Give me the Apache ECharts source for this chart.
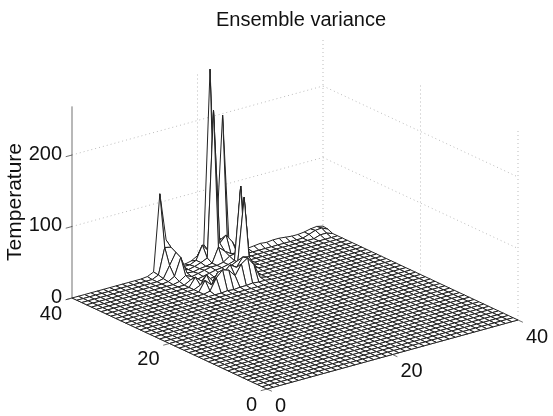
<!DOCTYPE html>
<html>
<head>
<meta charset="utf-8">
<title>Ensemble variance</title>
<script src="https://cdn.jsdelivr.net/npm/echarts@6/dist/echarts.min.js"></script>
<style>
    html, body { margin: 0; padding: 0; background: #fff; }
    #main { width: 553px; height: 416px; }
</style>
</head>
<body>
<div id="main"></div>
<script>
const xTicks = [0, 20, 40];
const yTicks = [0, 20, 40];
const zTicks = [0, 100, 200];
const zTop = 268;
const gridCells = 40;

// 扰动区域 x=12..25，第一行 y=40，最后一行 y=30
const patchX0 = 12;
const patchY0 = 40;
const patchRows = [
    [1, 5, 112, 45, 11, 6, 4, 6, 11, 24, 267, 30, 198, 20],
    [0, 4, 40, 38, 12, 6, 6, 10, 29, 18, 25, 30, 20, 12],
    [0, 2, 18, 34, 8, 5, 7, 10, 14, 218, 30, 39, 27, 10],
    [0, 1, 6, 30, 6, 5, 7, 8, 10, 30, 22, 16, 14, 6],
    [0, 0, 2, 8, 4, 6, 8, 10, 10, 12, 18, 20, 14, 4],
    [0, 0, 0, 5, 3, 5, 7, 9, 10, 12, 15, 117, 14, 3],
    [0, 0, 0, 12, 4, 4, 5, 6, 8, 10, 16, 12, 6, 1],
    [0, 0, 0, 4, 16, 5, 8, 14, 20, 24, 110, 3, 1, 0],
    [0, 0, 0, 14, 5, 20, 18, 26, 20, 32, 30, 2, 0, 0],
    [0, 0, 0, 2, 18, 27, 24, 14, 28, 34, 22, 2, 0, 0],
    [0, 0, 0, 0, 0, 1, 0, 1, 1, 2, 1, 1, 0, 0]
];
// 右后方的小起伏 [x, y, z]
const ridgeCells = [
    [26, 40, 3], [27, 40, 3], [28, 40, 2], [29, 40, 3], [30, 40, 4], [31, 40, 3], [32, 40, 4],
    [33, 40, 4], [34, 40, 3], [35, 40, 2], [36, 40, 2], [37, 40, 3], [38, 40, 5], [39, 40, 6], [40, 40, 4],
    [38, 39, 6], [39, 39, 7], [40, 39, 3], [37, 39, 3], [38, 38, 3], [39, 38, 3]
];

// 投影：数据坐标 -> 图上坐标（轴范围即画布尺寸）
const origin = [267, 389];
const xStep = [6.275, -1.725];
const yStep = [-4.875, -2.275];
const zStep = -0.715;

function project(x, y, z) {
    return [
        origin[0] + xStep[0] * x + yStep[0] * y,
        origin[1] + xStep[1] * x + yStep[1] * y + zStep * z
    ];
}

let heights = [];
for (let x = 0; x <= gridCells; x++) {
    heights.push(new Array(gridCells + 1).fill(0));
}
patchRows.forEach(function (row, r) {
    row.forEach(function (z, c) {
        heights[patchX0 + c][patchY0 - r] = z;
    });
});
ridgeCells.forEach(function (p) {
    heights[p[0]][p[1]] = p[2];
});

// 画家算法：从后往前画
let meshData = [];
for (let sum = 2 * gridCells - 2; sum >= 0; sum--) {
    for (let x = 0; x < gridCells; x++) {
        let y = sum - x;
        if (y >= 0 && y < gridCells) {
            meshData.push([x, y]);
        }
    }
}

let wallData = [];
zTicks.forEach(function (t) {
    if (t > 0) {
        wallData.push([0, 40, t, 40, 40, t]);
        wallData.push([40, 40, t, 40, 0, t]);
    }
});
wallData.push([20, 40, 0, 20, 40, zTop]);
wallData.push([40, 40, 0, 40, 40, zTop]);
wallData.push([40, 20, 0, 40, 20, zTop]);
wallData.push([40, 0, 0, 40, 0, zTop]);

let axisData = [
    [0, 40, 0, 0, 40, zTop],
    [0, 0, 0, 40, 0, 0],
    [0, 0, 0, 0, 40, 0]
];
xTicks.forEach(function (t) {
    axisData.push([t, 0, 0, t, -1, 0]);
});
yTicks.forEach(function (t) {
    axisData.push([0, t, 0, -1, t, 0]);
});
zTicks.forEach(function (t) {
    axisData.push([0, 40, t, -1, 40, t]);
});

let labelData = [];
xTicks.forEach(function (t) {
    labelData.push([t, 0, 0, String(t), 'left', 8, 17]);
});
yTicks.forEach(function (t) {
    labelData.push([0, t, 0, String(t), 'right', -10, 16]);
});
zTicks.forEach(function (t) {
    labelData.push([0, 40, t, String(t), 'right', -10, -1]);
});

function segmentRender(lineStyle) {
    return function (params, api) {
        let a = api.coord(project(api.value(0), api.value(1), api.value(2)));
        let b = api.coord(project(api.value(3), api.value(4), api.value(5)));
        return {
            type: 'line',
            shape: { x1: a[0], y1: a[1], x2: b[0], y2: b[1] },
            style: lineStyle
        };
    };
}

let myChart = echarts.init(document.getElementById('main'), null, { renderer: 'canvas' });

let option = {
    animation: false,
    title: {
        text: 'Ensemble variance',
        left: 211,
        top: 5,
        textStyle: {
            fontFamily: 'Liberation Sans',
            fontSize: 20,
            fontWeight: 'normal',
            color: '#111'
        }
    },
    grid: { left: 0, right: 0, top: 0, bottom: 0 },
    xAxis: { type: 'value', min: 0, max: 553, show: false },
    yAxis: { type: 'value', min: 0, max: 416, inverse: true, show: false },
    graphic: [{
        type: 'text',
        left: 5,
        top: 143,
        rotation: Math.PI / 2,
        style: {
            text: 'Temperature',
            font: '21px "Liberation Sans"',
            fill: '#111'
        }
    }],
    series: [
        {
            type: 'custom',
            coordinateSystem: 'cartesian2d',
            silent: true,
            renderItem: segmentRender({ stroke: '#bbb', lineWidth: 1, lineDash: [1, 3], fill: null }),
            data: wallData
        },
        {
            type: 'custom',
            coordinateSystem: 'cartesian2d',
            silent: true,
            renderItem: segmentRender({ stroke: '#333', lineWidth: 0.7, fill: null }),
            data: axisData
        },
        {
            type: 'custom',
            coordinateSystem: 'cartesian2d',
            silent: true,
            progressive: 0,
            renderItem: function (params, api) {
                let x = api.value(0), y = api.value(1);
                let corners = [[x, y], [x + 1, y], [x + 1, y + 1], [x, y + 1]];
                return {
                    type: 'polygon',
                    shape: {
                        points: corners.map(function (c) {
                            return api.coord(project(c[0], c[1], heights[c[0]][c[1]]));
                        })
                    },
                    style: { fill: '#fff', stroke: '#222', lineWidth: 1 }
                };
            },
            data: meshData
        },
        {
            type: 'custom',
            coordinateSystem: 'cartesian2d',
            silent: true,
            renderItem: function (params, api) {
                let p = api.coord(project(api.value(0), api.value(1), api.value(2)));
                let d = labelData[params.dataIndex];
                return {
                    type: 'text',
                    style: {
                        text: d[3],
                        x: p[0] + d[5],
                        y: p[1] + d[6],
                        align: d[4],
                        verticalAlign: 'middle',
                        font: '20px "Liberation Sans"',
                        fill: '#111'
                    }
                };
            },
            data: labelData.map(function (d) {
                return [d[0], d[1], d[2]];
            })
        }
    ]
};
myChart.setOption(option);
</script>
</body>
</html>
